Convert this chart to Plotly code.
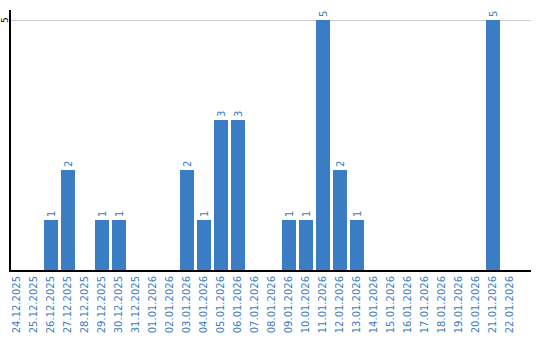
import plotly.graph_objects as go

dates = ["24.12.2025","25.12.2025","26.12.2025","27.12.2025","28.12.2025","29.12.2025",
         "30.12.2025","31.12.2025","01.01.2026","02.01.2026","03.01.2026","04.01.2026",
         "05.01.2026","06.01.2026","07.01.2026","08.01.2026","09.01.2026","10.01.2026",
         "11.01.2026","12.01.2026","13.01.2026","14.01.2026","15.01.2026","16.01.2026",
         "17.01.2026","18.01.2026","19.01.2026","20.01.2026","21.01.2026","22.01.2026"]
values = [0,0,1,2,0,1,1,0,0,0,2,1,3,3,0,0,1,1,5,2,1,0,0,0,0,0,0,0,5,0]
ytick_vals = [5]
ytick_text = ["5"]

blue = "#3b7dc4"
texts = [str(v) if v > 0 else "" for v in values]

fig = go.Figure(go.Bar(
    x=dates, y=values, marker=dict(color=blue, line=dict(width=0)),
    text=texts, textposition="outside", textangle=-90, cliponaxis=False,
    textfont=dict(family="DejaVu Sans", size=10, color=blue),
))
for v, t in zip(ytick_vals, ytick_text):
    fig.add_annotation(x=0, xref="paper", xanchor="center", xshift=-6, y=v, yref="y",
                       yanchor="middle", text=t, textangle=-90, showarrow=False,
                       font=dict(family="DejaVu Sans", size=9, color="black"))
fig.update_layout(
    width=540, height=340, margin=dict(l=11, r=9, t=10, b=70),
    plot_bgcolor="white", paper_bgcolor="white", bargap=0.176, showlegend=False,
    font=dict(family="DejaVu Sans"),
    xaxis=dict(type="category", range=[-0.353, 30.235], tickangle=-90,
               tickfont=dict(size=10, color=blue),
               showline=True, linecolor="black", linewidth=2, showgrid=False, ticks="",
               automargin=False, fixedrange=True),
    yaxis=dict(range=[0, 5.2], tickvals=ytick_vals, showticklabels=False,
               showline=True, linecolor="black",
               linewidth=2, showgrid=True, gridcolor="#cccccc", gridwidth=1, zeroline=False,
               ticks="", automargin=False),
)
fig.write_html("out.html")
